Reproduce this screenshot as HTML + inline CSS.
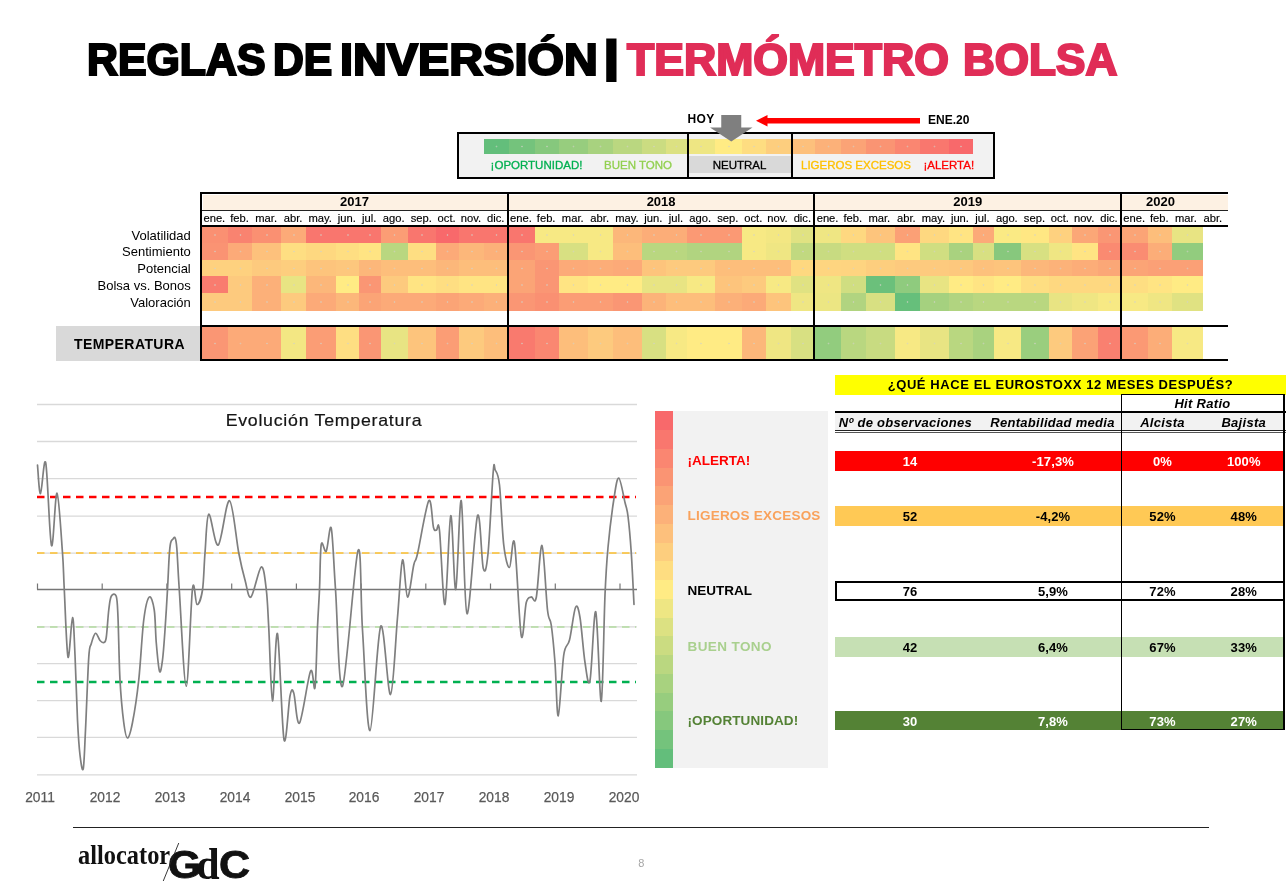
<!DOCTYPE html>
<html lang="es"><head><meta charset="utf-8"><title>Reglas de inversión | Termómetro bolsa</title>
<style>
html,body{margin:0;padding:0;background:#fff;}
body{width:1286px;height:892px;position:relative;overflow:hidden;font-family:"Liberation Sans",sans-serif;color:#000;}
body div{position:absolute;box-sizing:border-box;}
.t{white-space:nowrap;line-height:1;}
.c{background-image:radial-gradient(circle at 50% 50%,rgba(210,210,200,.6) 0.5px,rgba(210,210,200,0) 1.2px);}
svg{position:absolute;left:0;top:0;}
.ttl{font-weight:bold;font-size:44.5px;line-height:1;white-space:nowrap;transform-origin:0 0;-webkit-text-stroke:2.2px currentColor;}
</style></head><body>

<div class="ttl" id="w_REGLAS" style="left:86.82px;top:38.20px;color:#000;transform:scaleX(0.9631);">REGLAS</div>
<div class="ttl" id="w_DE" style="left:273.08px;top:38.20px;color:#000;transform:scaleX(0.9583);">DE</div>
<div class="ttl" id="w_INVERSIÓN" style="left:340.39px;top:38.20px;color:#000;transform:scaleX(1.0529);">INVERSIÓN</div>
<div class="ttl" id="w_TERMÓMETRO" style="left:627.25px;top:38.20px;color:#e02d57;transform:scaleX(1.0016);">TERMÓMETRO</div>
<div class="ttl" id="w_BOLSA" style="left:963.02px;top:38.20px;color:#e02d57;transform:scaleX(0.9903);">BOLSA</div>
<div class="t" style="left:603.86px;top:34.57px;transform-origin:0 0;transform:scale(1.1944,0.9783);font-family:'Liberation Sans',sans-serif;font-weight:bold;font-size:44px;-webkit-text-stroke:3px #000;color:#000;">|</div>
<div style="left:457.00px;top:132.00px;width:538.30px;height:47.00px;background:#f2f2f2;border:2px solid #000;"></div>
<div style="left:688.00px;top:155.50px;width:103.00px;height:17.50px;background:#d9d9d9;"></div>
<div class="c" style="left:484.30px;top:139.20px;width:24.60px;height:15.30px;background-color:#63be7b"></div>
<div class="c" style="left:508.60px;top:139.20px;width:26.40px;height:15.30px;background-color:#74c37c"></div>
<div class="c" style="left:534.70px;top:139.20px;width:24.60px;height:15.30px;background-color:#86c87d"></div>
<div class="c" style="left:559.00px;top:139.20px;width:29.20px;height:15.30px;background-color:#97cd7e"></div>
<div class="c" style="left:587.90px;top:139.20px;width:25.30px;height:15.30px;background-color:#a8d27f"></div>
<div class="c" style="left:612.90px;top:139.20px;width:29.60px;height:15.30px;background-color:#bad780"></div>
<div class="c" style="left:642.20px;top:139.20px;width:24.00px;height:15.30px;background-color:#cbdc81"></div>
<div class="c" style="left:665.90px;top:139.20px;width:21.60px;height:15.30px;background-color:#dce182"></div>
<div class="c" style="left:687.20px;top:139.20px;width:27.80px;height:15.30px;background-color:#eee683"></div>
<div class="c" style="left:714.70px;top:139.20px;width:28.00px;height:15.30px;background-color:#ffeb84"></div>
<div class="c" style="left:742.40px;top:139.20px;width:23.40px;height:15.30px;background-color:#fedd81"></div>
<div class="c" style="left:765.50px;top:139.20px;width:25.70px;height:15.30px;background-color:#fdce7e"></div>
<div class="c" style="left:790.90px;top:139.20px;width:24.60px;height:15.30px;background-color:#fdc07c"></div>
<div class="c" style="left:815.20px;top:139.20px;width:26.40px;height:15.30px;background-color:#fcb179"></div>
<div class="c" style="left:841.30px;top:139.20px;width:24.60px;height:15.30px;background-color:#fba376"></div>
<div class="c" style="left:865.60px;top:139.20px;width:29.20px;height:15.30px;background-color:#fa9473"></div>
<div class="c" style="left:894.50px;top:139.20px;width:25.30px;height:15.30px;background-color:#fa8671"></div>
<div class="c" style="left:919.50px;top:139.20px;width:29.60px;height:15.30px;background-color:#f9776e"></div>
<div class="c" style="left:948.80px;top:139.20px;width:24.00px;height:15.30px;background-color:#f8696b"></div>
<div style="left:686.50px;top:132.00px;width:2.00px;height:47.00px;background:#000;"></div>
<div style="left:790.50px;top:132.00px;width:2.00px;height:47.00px;background:#000;"></div>
<div class="t" style="left:536.50px;top:165.50px;transform:translate(-50%,-50%);font-size:11.5px;color:#00b050;-webkit-text-stroke:0.3px #00b050;">¡OPORTUNIDAD!</div>
<div class="t" style="left:638.00px;top:165.50px;transform:translate(-50%,-50%);font-size:11.5px;color:#92d050;-webkit-text-stroke:0.3px #92d050;">BUEN TONO</div>
<div class="t" style="left:739.50px;top:165.50px;transform:translate(-50%,-50%);font-size:11.5px;color:#000;-webkit-text-stroke:0.3px #000;">NEUTRAL</div>
<div class="t" style="left:856.00px;top:165.50px;transform:translate(-50%,-50%);font-size:11.5px;color:#ffc000;-webkit-text-stroke:0.3px #ffc000;">LIGEROS EXCESOS</div>
<div class="t" style="left:948.75px;top:165.50px;transform:translate(-50%,-50%);font-size:11.5px;color:#ff0000;-webkit-text-stroke:0.3px #ff0000;">¡ALERTA!</div>
<div class="t" style="left:701.00px;top:118.50px;transform:translate(-50%,-50%);font-size:12px;font-weight:bold;letter-spacing:0.3px;">HOY</div>
<div class="t" style="left:948.75px;top:119.50px;transform:translate(-50%,-50%);font-size:12px;font-weight:bold;">ENE.20</div>
<svg width="1286" height="892" viewBox="0 0 1286 892">
<polygon points="721.25,115 741.25,115 741.25,127.5 752.5,127.5 731.25,141.5 710,127.5 721.25,127.5" fill="#7f7f7f"/>
<polygon points="756,120.75 767.5,115 767.5,118 920,118 920,123.5 767.5,123.5 767.5,126.5" fill="#ff0000"/>
</svg>
<div style="left:203.20px;top:195.00px;width:1024.80px;height:15.00px;background:#fdf1e3;"></div>
<div class="c" style="left:202.00px;top:226.75px;width:26.40px;height:16.05px;background-color:#fa9072"></div>
<div class="c" style="left:228.10px;top:226.75px;width:24.60px;height:16.05px;background-color:#f98370"></div>
<div class="c" style="left:252.40px;top:226.75px;width:29.20px;height:16.05px;background-color:#fa9072"></div>
<div class="c" style="left:281.30px;top:226.75px;width:25.30px;height:16.05px;background-color:#fcaa78"></div>
<div class="c" style="left:306.30px;top:226.75px;width:29.60px;height:16.05px;background-color:#f9766e"></div>
<div class="c" style="left:335.60px;top:226.75px;width:24.00px;height:16.05px;background-color:#f9766e"></div>
<div class="c" style="left:359.30px;top:226.75px;width:21.60px;height:16.05px;background-color:#f9766e"></div>
<div class="c" style="left:380.60px;top:226.75px;width:27.80px;height:16.05px;background-color:#fb9d75"></div>
<div class="c" style="left:408.10px;top:226.75px;width:28.00px;height:16.05px;background-color:#f9766e"></div>
<div class="c" style="left:435.80px;top:226.75px;width:23.40px;height:16.05px;background-color:#f8696b"></div>
<div class="c" style="left:458.90px;top:226.75px;width:25.70px;height:16.05px;background-color:#f9766e"></div>
<div class="c" style="left:484.30px;top:226.75px;width:24.60px;height:16.05px;background-color:#f9766e"></div>
<div class="c" style="left:508.60px;top:226.75px;width:26.40px;height:16.05px;background-color:#f9766e"></div>
<div class="c" style="left:534.70px;top:226.75px;width:24.60px;height:16.05px;background-color:#f7e984"></div>
<div class="c" style="left:559.00px;top:226.75px;width:29.20px;height:16.05px;background-color:#f7e984"></div>
<div class="c" style="left:587.90px;top:226.75px;width:25.30px;height:16.05px;background-color:#f7e984"></div>
<div class="c" style="left:612.90px;top:226.75px;width:29.60px;height:16.05px;background-color:#fcb77a"></div>
<div class="c" style="left:642.20px;top:226.75px;width:24.00px;height:16.05px;background-color:#fcad78"></div>
<div class="c" style="left:665.90px;top:226.75px;width:21.60px;height:16.05px;background-color:#fcad78"></div>
<div class="c" style="left:687.20px;top:226.75px;width:27.80px;height:16.05px;background-color:#fb9974"></div>
<div class="c" style="left:714.70px;top:226.75px;width:28.00px;height:16.05px;background-color:#fb9974"></div>
<div class="c" style="left:742.40px;top:226.75px;width:23.40px;height:16.05px;background-color:#f7e984"></div>
<div class="c" style="left:765.50px;top:226.75px;width:25.70px;height:16.05px;background-color:#f3e783"></div>
<div class="c" style="left:790.90px;top:226.75px;width:24.60px;height:16.05px;background-color:#e0e282"></div>
<div class="c" style="left:815.20px;top:226.75px;width:26.40px;height:16.05px;background-color:#efe683"></div>
<div class="c" style="left:841.30px;top:226.75px;width:24.60px;height:16.05px;background-color:#fed880"></div>
<div class="c" style="left:865.60px;top:226.75px;width:29.20px;height:16.05px;background-color:#fdc47c"></div>
<div class="c" style="left:894.50px;top:226.75px;width:25.30px;height:16.05px;background-color:#fba076"></div>
<div class="c" style="left:919.50px;top:226.75px;width:29.60px;height:16.05px;background-color:#fed880"></div>
<div class="c" style="left:948.80px;top:226.75px;width:24.00px;height:16.05px;background-color:#ffe483"></div>
<div class="c" style="left:972.50px;top:226.75px;width:21.60px;height:16.05px;background-color:#fcaa78"></div>
<div class="c" style="left:993.80px;top:226.75px;width:27.80px;height:16.05px;background-color:#faea84"></div>
<div class="c" style="left:1021.30px;top:226.75px;width:28.00px;height:16.05px;background-color:#ffe783"></div>
<div class="c" style="left:1049.00px;top:226.75px;width:23.40px;height:16.05px;background-color:#fed17f"></div>
<div class="c" style="left:1072.10px;top:226.75px;width:25.70px;height:16.05px;background-color:#fba777"></div>
<div class="c" style="left:1097.50px;top:226.75px;width:24.60px;height:16.05px;background-color:#fa9674"></div>
<div class="c" style="left:1121.80px;top:226.75px;width:26.40px;height:16.05px;background-color:#fba476"></div>
<div class="c" style="left:1147.90px;top:226.75px;width:24.60px;height:16.05px;background-color:#fdbe7b"></div>
<div class="c" style="left:1172.20px;top:226.75px;width:30.60px;height:16.05px;background-color:#e8e483"></div>
<div class="t" style="left:190.75px;top:234.93px;transform:translate(-100%,-50%);font-size:13px;">Volatilidad</div>
<div class="c" style="left:202.00px;top:242.50px;width:26.40px;height:17.30px;background-color:#fa9373"></div>
<div class="c" style="left:228.10px;top:242.50px;width:24.60px;height:17.30px;background-color:#fcaa78"></div>
<div class="c" style="left:252.40px;top:242.50px;width:29.20px;height:17.30px;background-color:#fdc17c"></div>
<div class="c" style="left:281.30px;top:242.50px;width:25.30px;height:17.30px;background-color:#fede82"></div>
<div class="c" style="left:306.30px;top:242.50px;width:29.60px;height:17.30px;background-color:#fed880"></div>
<div class="c" style="left:335.60px;top:242.50px;width:24.00px;height:17.30px;background-color:#fede82"></div>
<div class="c" style="left:359.30px;top:242.50px;width:21.60px;height:17.30px;background-color:#ffe483"></div>
<div class="c" style="left:380.60px;top:242.50px;width:27.80px;height:17.30px;background-color:#b9d780"></div>
<div class="c" style="left:408.10px;top:242.50px;width:28.00px;height:17.30px;background-color:#fede82"></div>
<div class="c" style="left:435.80px;top:242.50px;width:23.40px;height:17.30px;background-color:#fcaa78"></div>
<div class="c" style="left:458.90px;top:242.50px;width:25.70px;height:17.30px;background-color:#fcb77a"></div>
<div class="c" style="left:484.30px;top:242.50px;width:24.60px;height:17.30px;background-color:#fcb079"></div>
<div class="c" style="left:508.60px;top:242.50px;width:26.40px;height:17.30px;background-color:#fa9674"></div>
<div class="c" style="left:534.70px;top:242.50px;width:24.60px;height:17.30px;background-color:#fb9d75"></div>
<div class="c" style="left:559.00px;top:242.50px;width:29.20px;height:17.30px;background-color:#d8e082"></div>
<div class="c" style="left:587.90px;top:242.50px;width:25.30px;height:17.30px;background-color:#f7e984"></div>
<div class="c" style="left:612.90px;top:242.50px;width:29.60px;height:17.30px;background-color:#fdbe7b"></div>
<div class="c" style="left:642.20px;top:242.50px;width:24.00px;height:17.30px;background-color:#b9d780"></div>
<div class="c" style="left:665.90px;top:242.50px;width:21.60px;height:17.30px;background-color:#b9d780"></div>
<div class="c" style="left:687.20px;top:242.50px;width:27.80px;height:17.30px;background-color:#b1d480"></div>
<div class="c" style="left:714.70px;top:242.50px;width:28.00px;height:17.30px;background-color:#b1d480"></div>
<div class="c" style="left:742.40px;top:242.50px;width:23.40px;height:17.30px;background-color:#f7e984"></div>
<div class="c" style="left:765.50px;top:242.50px;width:25.70px;height:17.30px;background-color:#efe683"></div>
<div class="c" style="left:790.90px;top:242.50px;width:24.60px;height:17.30px;background-color:#c1d980"></div>
<div class="c" style="left:815.20px;top:242.50px;width:26.40px;height:17.30px;background-color:#c8db81"></div>
<div class="c" style="left:841.30px;top:242.50px;width:24.60px;height:17.30px;background-color:#d0de81"></div>
<div class="c" style="left:865.60px;top:242.50px;width:29.20px;height:17.30px;background-color:#d0de81"></div>
<div class="c" style="left:894.50px;top:242.50px;width:25.30px;height:17.30px;background-color:#ffe483"></div>
<div class="c" style="left:919.50px;top:242.50px;width:29.60px;height:17.30px;background-color:#d0de81"></div>
<div class="c" style="left:948.80px;top:242.50px;width:24.00px;height:17.30px;background-color:#a9d27f"></div>
<div class="c" style="left:972.50px;top:242.50px;width:21.60px;height:17.30px;background-color:#d8e082"></div>
<div class="c" style="left:993.80px;top:242.50px;width:27.80px;height:17.30px;background-color:#87c87d"></div>
<div class="c" style="left:1021.30px;top:242.50px;width:28.00px;height:17.30px;background-color:#d8e082"></div>
<div class="c" style="left:1049.00px;top:242.50px;width:23.40px;height:17.30px;background-color:#efe683"></div>
<div class="c" style="left:1072.10px;top:242.50px;width:25.70px;height:17.30px;background-color:#ffe483"></div>
<div class="c" style="left:1097.50px;top:242.50px;width:24.60px;height:17.30px;background-color:#fa8a71"></div>
<div class="c" style="left:1121.80px;top:242.50px;width:26.40px;height:17.30px;background-color:#fa8c72"></div>
<div class="c" style="left:1147.90px;top:242.50px;width:24.60px;height:17.30px;background-color:#fcad78"></div>
<div class="c" style="left:1172.20px;top:242.50px;width:30.60px;height:17.30px;background-color:#92cc7e"></div>
<div class="t" style="left:190.75px;top:251.30px;transform:translate(-100%,-50%);font-size:13px;">Sentimiento</div>
<div class="c" style="left:202.00px;top:259.50px;width:26.40px;height:17.05px;background-color:#fed17f"></div>
<div class="c" style="left:228.10px;top:259.50px;width:24.60px;height:17.05px;background-color:#fed17f"></div>
<div class="c" style="left:252.40px;top:259.50px;width:29.20px;height:17.05px;background-color:#fdca7e"></div>
<div class="c" style="left:281.30px;top:259.50px;width:25.30px;height:17.05px;background-color:#fdce7e"></div>
<div class="c" style="left:306.30px;top:259.50px;width:29.60px;height:17.05px;background-color:#fdc47c"></div>
<div class="c" style="left:335.60px;top:259.50px;width:24.00px;height:17.05px;background-color:#fdc77d"></div>
<div class="c" style="left:359.30px;top:259.50px;width:21.60px;height:17.05px;background-color:#fcb77a"></div>
<div class="c" style="left:380.60px;top:259.50px;width:27.80px;height:17.05px;background-color:#fdbe7b"></div>
<div class="c" style="left:408.10px;top:259.50px;width:28.00px;height:17.05px;background-color:#fdbe7b"></div>
<div class="c" style="left:435.80px;top:259.50px;width:23.40px;height:17.05px;background-color:#fcb77a"></div>
<div class="c" style="left:458.90px;top:259.50px;width:25.70px;height:17.05px;background-color:#fdbe7b"></div>
<div class="c" style="left:484.30px;top:259.50px;width:24.60px;height:17.05px;background-color:#fdbe7b"></div>
<div class="c" style="left:508.60px;top:259.50px;width:26.40px;height:17.05px;background-color:#fba476"></div>
<div class="c" style="left:534.70px;top:259.50px;width:24.60px;height:17.05px;background-color:#fa9674"></div>
<div class="c" style="left:559.00px;top:259.50px;width:29.20px;height:17.05px;background-color:#fcaa78"></div>
<div class="c" style="left:587.90px;top:259.50px;width:25.30px;height:17.05px;background-color:#fcad78"></div>
<div class="c" style="left:612.90px;top:259.50px;width:29.60px;height:17.05px;background-color:#fcaa78"></div>
<div class="c" style="left:642.20px;top:259.50px;width:24.00px;height:17.05px;background-color:#fdc47c"></div>
<div class="c" style="left:665.90px;top:259.50px;width:21.60px;height:17.05px;background-color:#fdca7e"></div>
<div class="c" style="left:687.20px;top:259.50px;width:27.80px;height:17.05px;background-color:#fdca7e"></div>
<div class="c" style="left:714.70px;top:259.50px;width:28.00px;height:17.05px;background-color:#fdbe7b"></div>
<div class="c" style="left:742.40px;top:259.50px;width:23.40px;height:17.05px;background-color:#fdbe7b"></div>
<div class="c" style="left:765.50px;top:259.50px;width:25.70px;height:17.05px;background-color:#fdbe7b"></div>
<div class="c" style="left:790.90px;top:259.50px;width:24.60px;height:17.05px;background-color:#fed880"></div>
<div class="c" style="left:815.20px;top:259.50px;width:26.40px;height:17.05px;background-color:#fed580"></div>
<div class="c" style="left:841.30px;top:259.50px;width:24.60px;height:17.05px;background-color:#fed480"></div>
<div class="c" style="left:865.60px;top:259.50px;width:29.20px;height:17.05px;background-color:#fdce7e"></div>
<div class="c" style="left:894.50px;top:259.50px;width:25.30px;height:17.05px;background-color:#fdca7e"></div>
<div class="c" style="left:919.50px;top:259.50px;width:29.60px;height:17.05px;background-color:#fdca7e"></div>
<div class="c" style="left:948.80px;top:259.50px;width:24.00px;height:17.05px;background-color:#fdc87d"></div>
<div class="c" style="left:972.50px;top:259.50px;width:21.60px;height:17.05px;background-color:#fdc17c"></div>
<div class="c" style="left:993.80px;top:259.50px;width:27.80px;height:17.05px;background-color:#fdc47c"></div>
<div class="c" style="left:1021.30px;top:259.50px;width:28.00px;height:17.05px;background-color:#fcb77a"></div>
<div class="c" style="left:1049.00px;top:259.50px;width:23.40px;height:17.05px;background-color:#fcb279"></div>
<div class="c" style="left:1072.10px;top:259.50px;width:25.70px;height:17.05px;background-color:#fcad78"></div>
<div class="c" style="left:1097.50px;top:259.50px;width:24.60px;height:17.05px;background-color:#fba777"></div>
<div class="c" style="left:1121.80px;top:259.50px;width:26.40px;height:17.05px;background-color:#fba476"></div>
<div class="c" style="left:1147.90px;top:259.50px;width:24.60px;height:17.05px;background-color:#fba076"></div>
<div class="c" style="left:1172.20px;top:259.50px;width:30.60px;height:17.05px;background-color:#fba076"></div>
<div class="t" style="left:190.75px;top:268.18px;transform:translate(-100%,-50%);font-size:13px;">Potencial</div>
<div class="c" style="left:202.00px;top:276.25px;width:26.40px;height:17.30px;background-color:#f97c6f"></div>
<div class="c" style="left:228.10px;top:276.25px;width:24.60px;height:17.30px;background-color:#fdca7e"></div>
<div class="c" style="left:252.40px;top:276.25px;width:29.20px;height:17.30px;background-color:#fcb079"></div>
<div class="c" style="left:281.30px;top:276.25px;width:25.30px;height:17.30px;background-color:#e8e483"></div>
<div class="c" style="left:306.30px;top:276.25px;width:29.60px;height:17.30px;background-color:#fcb77a"></div>
<div class="c" style="left:335.60px;top:276.25px;width:24.00px;height:17.30px;background-color:#ffeb84"></div>
<div class="c" style="left:359.30px;top:276.25px;width:21.60px;height:17.30px;background-color:#fa9674"></div>
<div class="c" style="left:380.60px;top:276.25px;width:27.80px;height:17.30px;background-color:#fdca7e"></div>
<div class="c" style="left:408.10px;top:276.25px;width:28.00px;height:17.30px;background-color:#ffe483"></div>
<div class="c" style="left:435.80px;top:276.25px;width:23.40px;height:17.30px;background-color:#fede82"></div>
<div class="c" style="left:458.90px;top:276.25px;width:25.70px;height:17.30px;background-color:#ffe483"></div>
<div class="c" style="left:484.30px;top:276.25px;width:24.60px;height:17.30px;background-color:#ffe483"></div>
<div class="c" style="left:508.60px;top:276.25px;width:26.40px;height:17.30px;background-color:#fba476"></div>
<div class="c" style="left:534.70px;top:276.25px;width:24.60px;height:17.30px;background-color:#fa9674"></div>
<div class="c" style="left:559.00px;top:276.25px;width:29.20px;height:17.30px;background-color:#ffe483"></div>
<div class="c" style="left:587.90px;top:276.25px;width:25.30px;height:17.30px;background-color:#ffeb84"></div>
<div class="c" style="left:612.90px;top:276.25px;width:29.60px;height:17.30px;background-color:#ffeb84"></div>
<div class="c" style="left:642.20px;top:276.25px;width:24.00px;height:17.30px;background-color:#e8e483"></div>
<div class="c" style="left:665.90px;top:276.25px;width:21.60px;height:17.30px;background-color:#e8e483"></div>
<div class="c" style="left:687.20px;top:276.25px;width:27.80px;height:17.30px;background-color:#f7e984"></div>
<div class="c" style="left:714.70px;top:276.25px;width:28.00px;height:17.30px;background-color:#fdc47c"></div>
<div class="c" style="left:742.40px;top:276.25px;width:23.40px;height:17.30px;background-color:#fdca7e"></div>
<div class="c" style="left:765.50px;top:276.25px;width:25.70px;height:17.30px;background-color:#f7e984"></div>
<div class="c" style="left:790.90px;top:276.25px;width:24.60px;height:17.30px;background-color:#e0e282"></div>
<div class="c" style="left:815.20px;top:276.25px;width:26.40px;height:17.30px;background-color:#efe683"></div>
<div class="c" style="left:841.30px;top:276.25px;width:24.60px;height:17.30px;background-color:#d0de81"></div>
<div class="c" style="left:865.60px;top:276.25px;width:29.20px;height:17.30px;background-color:#6bc07b"></div>
<div class="c" style="left:894.50px;top:276.25px;width:25.30px;height:17.30px;background-color:#8fcb7e"></div>
<div class="c" style="left:919.50px;top:276.25px;width:29.60px;height:17.30px;background-color:#e8e483"></div>
<div class="c" style="left:948.80px;top:276.25px;width:24.00px;height:17.30px;background-color:#ffeb84"></div>
<div class="c" style="left:972.50px;top:276.25px;width:21.60px;height:17.30px;background-color:#ffe483"></div>
<div class="c" style="left:993.80px;top:276.25px;width:27.80px;height:17.30px;background-color:#ffeb84"></div>
<div class="c" style="left:1021.30px;top:276.25px;width:28.00px;height:17.30px;background-color:#fede82"></div>
<div class="c" style="left:1049.00px;top:276.25px;width:23.40px;height:17.30px;background-color:#fed880"></div>
<div class="c" style="left:1072.10px;top:276.25px;width:25.70px;height:17.30px;background-color:#fed880"></div>
<div class="c" style="left:1097.50px;top:276.25px;width:24.60px;height:17.30px;background-color:#fed880"></div>
<div class="c" style="left:1121.80px;top:276.25px;width:26.40px;height:17.30px;background-color:#fede82"></div>
<div class="c" style="left:1147.90px;top:276.25px;width:24.60px;height:17.30px;background-color:#ffe483"></div>
<div class="c" style="left:1172.20px;top:276.25px;width:30.60px;height:17.30px;background-color:#ffeb84"></div>
<div class="t" style="left:190.75px;top:285.05px;transform:translate(-100%,-50%);font-size:13px;">Bolsa vs. Bonos</div>
<div class="c" style="left:202.00px;top:293.25px;width:26.40px;height:17.80px;background-color:#fdca7e"></div>
<div class="c" style="left:228.10px;top:293.25px;width:24.60px;height:17.80px;background-color:#fdca7e"></div>
<div class="c" style="left:252.40px;top:293.25px;width:29.20px;height:17.80px;background-color:#fcb079"></div>
<div class="c" style="left:281.30px;top:293.25px;width:25.30px;height:17.80px;background-color:#fdca7e"></div>
<div class="c" style="left:306.30px;top:293.25px;width:29.60px;height:17.80px;background-color:#fcaa78"></div>
<div class="c" style="left:335.60px;top:293.25px;width:24.00px;height:17.80px;background-color:#fcb77a"></div>
<div class="c" style="left:359.30px;top:293.25px;width:21.60px;height:17.80px;background-color:#fba476"></div>
<div class="c" style="left:380.60px;top:293.25px;width:27.80px;height:17.80px;background-color:#fcaa78"></div>
<div class="c" style="left:408.10px;top:293.25px;width:28.00px;height:17.80px;background-color:#fcaa78"></div>
<div class="c" style="left:435.80px;top:293.25px;width:23.40px;height:17.80px;background-color:#fba476"></div>
<div class="c" style="left:458.90px;top:293.25px;width:25.70px;height:17.80px;background-color:#fcaa78"></div>
<div class="c" style="left:484.30px;top:293.25px;width:24.60px;height:17.80px;background-color:#fcb079"></div>
<div class="c" style="left:508.60px;top:293.25px;width:26.40px;height:17.80px;background-color:#fa9674"></div>
<div class="c" style="left:534.70px;top:293.25px;width:24.60px;height:17.80px;background-color:#fa9072"></div>
<div class="c" style="left:559.00px;top:293.25px;width:29.20px;height:17.80px;background-color:#fb9d75"></div>
<div class="c" style="left:587.90px;top:293.25px;width:25.30px;height:17.80px;background-color:#fb9d75"></div>
<div class="c" style="left:612.90px;top:293.25px;width:29.60px;height:17.80px;background-color:#fa9674"></div>
<div class="c" style="left:642.20px;top:293.25px;width:24.00px;height:17.80px;background-color:#fcb379"></div>
<div class="c" style="left:665.90px;top:293.25px;width:21.60px;height:17.80px;background-color:#fdbe7b"></div>
<div class="c" style="left:687.20px;top:293.25px;width:27.80px;height:17.80px;background-color:#fdbe7b"></div>
<div class="c" style="left:714.70px;top:293.25px;width:28.00px;height:17.80px;background-color:#fcb079"></div>
<div class="c" style="left:742.40px;top:293.25px;width:23.40px;height:17.80px;background-color:#fcaa78"></div>
<div class="c" style="left:765.50px;top:293.25px;width:25.70px;height:17.80px;background-color:#fdc47c"></div>
<div class="c" style="left:790.90px;top:293.25px;width:24.60px;height:17.80px;background-color:#efe683"></div>
<div class="c" style="left:815.20px;top:293.25px;width:26.40px;height:17.80px;background-color:#ece683"></div>
<div class="c" style="left:841.30px;top:293.25px;width:24.60px;height:17.80px;background-color:#b1d480"></div>
<div class="c" style="left:865.60px;top:293.25px;width:29.20px;height:17.80px;background-color:#d8e082"></div>
<div class="c" style="left:894.50px;top:293.25px;width:25.30px;height:17.80px;background-color:#66bf7b"></div>
<div class="c" style="left:919.50px;top:293.25px;width:29.60px;height:17.80px;background-color:#a5d17f"></div>
<div class="c" style="left:948.80px;top:293.25px;width:24.00px;height:17.80px;background-color:#b1d480"></div>
<div class="c" style="left:972.50px;top:293.25px;width:21.60px;height:17.80px;background-color:#b9d780"></div>
<div class="c" style="left:993.80px;top:293.25px;width:27.80px;height:17.80px;background-color:#b9d780"></div>
<div class="c" style="left:1021.30px;top:293.25px;width:28.00px;height:17.80px;background-color:#b9d780"></div>
<div class="c" style="left:1049.00px;top:293.25px;width:23.40px;height:17.80px;background-color:#e8e483"></div>
<div class="c" style="left:1072.10px;top:293.25px;width:25.70px;height:17.80px;background-color:#efe683"></div>
<div class="c" style="left:1097.50px;top:293.25px;width:24.60px;height:17.80px;background-color:#f7e984"></div>
<div class="c" style="left:1121.80px;top:293.25px;width:26.40px;height:17.80px;background-color:#f7e984"></div>
<div class="c" style="left:1147.90px;top:293.25px;width:24.60px;height:17.80px;background-color:#efe683"></div>
<div class="c" style="left:1172.20px;top:293.25px;width:30.60px;height:17.80px;background-color:#e0e282"></div>
<div class="t" style="left:190.75px;top:302.30px;transform:translate(-100%,-50%);font-size:13px;">Valoración</div>
<div class="c" style="left:202.00px;top:327.00px;width:26.40px;height:32.50px;background-color:#fa9674"></div>
<div class="c" style="left:228.10px;top:327.00px;width:24.60px;height:32.50px;background-color:#fcaa78"></div>
<div class="c" style="left:252.40px;top:327.00px;width:29.20px;height:32.50px;background-color:#fcaa78"></div>
<div class="c" style="left:281.30px;top:327.00px;width:25.30px;height:32.50px;background-color:#f3e783"></div>
<div class="c" style="left:306.30px;top:327.00px;width:29.60px;height:32.50px;background-color:#fb9d75"></div>
<div class="c" style="left:335.60px;top:327.00px;width:24.00px;height:32.50px;background-color:#fede82"></div>
<div class="c" style="left:359.30px;top:327.00px;width:21.60px;height:32.50px;background-color:#fa9674"></div>
<div class="c" style="left:380.60px;top:327.00px;width:27.80px;height:32.50px;background-color:#e8e483"></div>
<div class="c" style="left:408.10px;top:327.00px;width:28.00px;height:32.50px;background-color:#fdc47c"></div>
<div class="c" style="left:435.80px;top:327.00px;width:23.40px;height:32.50px;background-color:#fb9d75"></div>
<div class="c" style="left:458.90px;top:327.00px;width:25.70px;height:32.50px;background-color:#fdca7e"></div>
<div class="c" style="left:484.30px;top:327.00px;width:24.60px;height:32.50px;background-color:#fdbe7b"></div>
<div class="c" style="left:508.60px;top:327.00px;width:26.40px;height:32.50px;background-color:#f97a6e"></div>
<div class="c" style="left:534.70px;top:327.00px;width:24.60px;height:32.50px;background-color:#fa8771"></div>
<div class="c" style="left:559.00px;top:327.00px;width:29.20px;height:32.50px;background-color:#fdbe7b"></div>
<div class="c" style="left:587.90px;top:327.00px;width:25.30px;height:32.50px;background-color:#fdca7e"></div>
<div class="c" style="left:612.90px;top:327.00px;width:29.60px;height:32.50px;background-color:#fdbe7b"></div>
<div class="c" style="left:642.20px;top:327.00px;width:24.00px;height:32.50px;background-color:#d8e082"></div>
<div class="c" style="left:665.90px;top:327.00px;width:21.60px;height:32.50px;background-color:#f7e984"></div>
<div class="c" style="left:687.20px;top:327.00px;width:27.80px;height:32.50px;background-color:#ffeb84"></div>
<div class="c" style="left:714.70px;top:327.00px;width:28.00px;height:32.50px;background-color:#ffeb84"></div>
<div class="c" style="left:742.40px;top:327.00px;width:23.40px;height:32.50px;background-color:#fcb77a"></div>
<div class="c" style="left:765.50px;top:327.00px;width:25.70px;height:32.50px;background-color:#efe683"></div>
<div class="c" style="left:790.90px;top:327.00px;width:24.60px;height:32.50px;background-color:#d8e082"></div>
<div class="c" style="left:815.20px;top:327.00px;width:26.40px;height:32.50px;background-color:#92cc7e"></div>
<div class="c" style="left:841.30px;top:327.00px;width:24.60px;height:32.50px;background-color:#b9d780"></div>
<div class="c" style="left:865.60px;top:327.00px;width:29.20px;height:32.50px;background-color:#c8db81"></div>
<div class="c" style="left:894.50px;top:327.00px;width:25.30px;height:32.50px;background-color:#f7e984"></div>
<div class="c" style="left:919.50px;top:327.00px;width:29.60px;height:32.50px;background-color:#e8e483"></div>
<div class="c" style="left:948.80px;top:327.00px;width:24.00px;height:32.50px;background-color:#b9d780"></div>
<div class="c" style="left:972.50px;top:327.00px;width:21.60px;height:32.50px;background-color:#a9d27f"></div>
<div class="c" style="left:993.80px;top:327.00px;width:27.80px;height:32.50px;background-color:#f7e984"></div>
<div class="c" style="left:1021.30px;top:327.00px;width:28.00px;height:32.50px;background-color:#9ace7e"></div>
<div class="c" style="left:1049.00px;top:327.00px;width:23.40px;height:32.50px;background-color:#fdca7e"></div>
<div class="c" style="left:1072.10px;top:327.00px;width:25.70px;height:32.50px;background-color:#fba276"></div>
<div class="c" style="left:1097.50px;top:327.00px;width:24.60px;height:32.50px;background-color:#f98070"></div>
<div class="c" style="left:1121.80px;top:327.00px;width:26.40px;height:32.50px;background-color:#fb9974"></div>
<div class="c" style="left:1147.90px;top:327.00px;width:24.60px;height:32.50px;background-color:#fcad78"></div>
<div class="c" style="left:1172.20px;top:327.00px;width:30.60px;height:32.50px;background-color:#f7e984"></div>
<div style="left:56.25px;top:326.25px;width:145.00px;height:34.50px;background:#d9d9d9;"></div>
<div class="t" style="left:129.50px;top:343.50px;transform:translate(-50%,-50%);font-size:14px;font-weight:bold;letter-spacing:0.42px;">TEMPERATURA</div>
<div style="left:200.50px;top:192.00px;width:1027.50px;height:2.00px;background:#000;"></div>
<div style="left:200.50px;top:209.60px;width:1027.50px;height:1.20px;background:#222;"></div>
<div style="left:200.50px;top:225.00px;width:1027.50px;height:2.00px;background:#000;"></div>
<div style="left:200.50px;top:325.00px;width:1027.50px;height:2.00px;background:#000;"></div>
<div style="left:200.50px;top:359.00px;width:1027.50px;height:2.00px;background:#000;"></div>
<div style="left:200.20px;top:192.00px;width:2.00px;height:169.00px;background:#000;"></div>
<div style="left:506.80px;top:192.00px;width:2.00px;height:169.00px;background:#000;"></div>
<div style="left:813.40px;top:192.00px;width:2.00px;height:169.00px;background:#000;"></div>
<div style="left:1120.00px;top:192.00px;width:2.00px;height:169.00px;background:#000;"></div>
<div class="t" style="left:354.50px;top:201.30px;transform:translate(-50%,-50%);font-size:13px;font-weight:bold;">2017</div>
<div class="t" style="left:661.10px;top:201.30px;transform:translate(-50%,-50%);font-size:13px;font-weight:bold;">2018</div>
<div class="t" style="left:967.70px;top:201.30px;transform:translate(-50%,-50%);font-size:13px;font-weight:bold;">2019</div>
<div class="t" style="left:1160.50px;top:201.30px;transform:translate(-50%,-50%);font-size:13px;font-weight:bold;">2020</div>
<div class="t" style="left:214.35px;top:219.40px;transform:translate(-50%,-50%);font-size:11.2px;-webkit-text-stroke:0.15px #000;">ene.</div>
<div class="t" style="left:239.55px;top:219.40px;transform:translate(-50%,-50%);font-size:11.2px;-webkit-text-stroke:0.15px #000;">feb.</div>
<div class="t" style="left:266.15px;top:219.40px;transform:translate(-50%,-50%);font-size:11.2px;-webkit-text-stroke:0.15px #000;">mar.</div>
<div class="t" style="left:293.10px;top:219.40px;transform:translate(-50%,-50%);font-size:11.2px;-webkit-text-stroke:0.15px #000;">abr.</div>
<div class="t" style="left:320.25px;top:219.40px;transform:translate(-50%,-50%);font-size:11.2px;-webkit-text-stroke:0.15px #000;">may.</div>
<div class="t" style="left:346.75px;top:219.40px;transform:translate(-50%,-50%);font-size:11.2px;-webkit-text-stroke:0.15px #000;">jun.</div>
<div class="t" style="left:369.25px;top:219.40px;transform:translate(-50%,-50%);font-size:11.2px;-webkit-text-stroke:0.15px #000;">jul.</div>
<div class="t" style="left:393.65px;top:219.40px;transform:translate(-50%,-50%);font-size:11.2px;-webkit-text-stroke:0.15px #000;">ago.</div>
<div class="t" style="left:421.25px;top:219.40px;transform:translate(-50%,-50%);font-size:11.2px;-webkit-text-stroke:0.15px #000;">sep.</div>
<div class="t" style="left:446.65px;top:219.40px;transform:translate(-50%,-50%);font-size:11.2px;-webkit-text-stroke:0.15px #000;">oct.</div>
<div class="t" style="left:470.90px;top:219.40px;transform:translate(-50%,-50%);font-size:11.2px;-webkit-text-stroke:0.15px #000;">nov.</div>
<div class="t" style="left:495.75px;top:219.40px;transform:translate(-50%,-50%);font-size:11.2px;-webkit-text-stroke:0.15px #000;">dic.</div>
<div class="t" style="left:520.95px;top:219.40px;transform:translate(-50%,-50%);font-size:11.2px;-webkit-text-stroke:0.15px #000;">ene.</div>
<div class="t" style="left:546.15px;top:219.40px;transform:translate(-50%,-50%);font-size:11.2px;-webkit-text-stroke:0.15px #000;">feb.</div>
<div class="t" style="left:572.75px;top:219.40px;transform:translate(-50%,-50%);font-size:11.2px;-webkit-text-stroke:0.15px #000;">mar.</div>
<div class="t" style="left:599.70px;top:219.40px;transform:translate(-50%,-50%);font-size:11.2px;-webkit-text-stroke:0.15px #000;">abr.</div>
<div class="t" style="left:626.85px;top:219.40px;transform:translate(-50%,-50%);font-size:11.2px;-webkit-text-stroke:0.15px #000;">may.</div>
<div class="t" style="left:653.35px;top:219.40px;transform:translate(-50%,-50%);font-size:11.2px;-webkit-text-stroke:0.15px #000;">jun.</div>
<div class="t" style="left:675.85px;top:219.40px;transform:translate(-50%,-50%);font-size:11.2px;-webkit-text-stroke:0.15px #000;">jul.</div>
<div class="t" style="left:700.25px;top:219.40px;transform:translate(-50%,-50%);font-size:11.2px;-webkit-text-stroke:0.15px #000;">ago.</div>
<div class="t" style="left:727.85px;top:219.40px;transform:translate(-50%,-50%);font-size:11.2px;-webkit-text-stroke:0.15px #000;">sep.</div>
<div class="t" style="left:753.25px;top:219.40px;transform:translate(-50%,-50%);font-size:11.2px;-webkit-text-stroke:0.15px #000;">oct.</div>
<div class="t" style="left:777.50px;top:219.40px;transform:translate(-50%,-50%);font-size:11.2px;-webkit-text-stroke:0.15px #000;">nov.</div>
<div class="t" style="left:802.35px;top:219.40px;transform:translate(-50%,-50%);font-size:11.2px;-webkit-text-stroke:0.15px #000;">dic.</div>
<div class="t" style="left:827.55px;top:219.40px;transform:translate(-50%,-50%);font-size:11.2px;-webkit-text-stroke:0.15px #000;">ene.</div>
<div class="t" style="left:852.75px;top:219.40px;transform:translate(-50%,-50%);font-size:11.2px;-webkit-text-stroke:0.15px #000;">feb.</div>
<div class="t" style="left:879.35px;top:219.40px;transform:translate(-50%,-50%);font-size:11.2px;-webkit-text-stroke:0.15px #000;">mar.</div>
<div class="t" style="left:906.30px;top:219.40px;transform:translate(-50%,-50%);font-size:11.2px;-webkit-text-stroke:0.15px #000;">abr.</div>
<div class="t" style="left:933.45px;top:219.40px;transform:translate(-50%,-50%);font-size:11.2px;-webkit-text-stroke:0.15px #000;">may.</div>
<div class="t" style="left:959.95px;top:219.40px;transform:translate(-50%,-50%);font-size:11.2px;-webkit-text-stroke:0.15px #000;">jun.</div>
<div class="t" style="left:982.45px;top:219.40px;transform:translate(-50%,-50%);font-size:11.2px;-webkit-text-stroke:0.15px #000;">jul.</div>
<div class="t" style="left:1006.85px;top:219.40px;transform:translate(-50%,-50%);font-size:11.2px;-webkit-text-stroke:0.15px #000;">ago.</div>
<div class="t" style="left:1034.45px;top:219.40px;transform:translate(-50%,-50%);font-size:11.2px;-webkit-text-stroke:0.15px #000;">sep.</div>
<div class="t" style="left:1059.85px;top:219.40px;transform:translate(-50%,-50%);font-size:11.2px;-webkit-text-stroke:0.15px #000;">oct.</div>
<div class="t" style="left:1084.10px;top:219.40px;transform:translate(-50%,-50%);font-size:11.2px;-webkit-text-stroke:0.15px #000;">nov.</div>
<div class="t" style="left:1108.95px;top:219.40px;transform:translate(-50%,-50%);font-size:11.2px;-webkit-text-stroke:0.15px #000;">dic.</div>
<div class="t" style="left:1134.15px;top:219.40px;transform:translate(-50%,-50%);font-size:11.2px;-webkit-text-stroke:0.15px #000;">ene.</div>
<div class="t" style="left:1159.35px;top:219.40px;transform:translate(-50%,-50%);font-size:11.2px;-webkit-text-stroke:0.15px #000;">feb.</div>
<div class="t" style="left:1185.95px;top:219.40px;transform:translate(-50%,-50%);font-size:11.2px;-webkit-text-stroke:0.15px #000;">mar.</div>
<div class="t" style="left:1212.90px;top:219.40px;transform:translate(-50%,-50%);font-size:11.2px;-webkit-text-stroke:0.15px #000;">abr.</div>
<svg width="1286" height="892" viewBox="0 0 1286 892">
<line x1="37" x2="637" y1="404.5" y2="404.5" stroke="#d9d9d9" stroke-width="1.3"/>
<line x1="37" x2="637" y1="441.5" y2="441.5" stroke="#d9d9d9" stroke-width="1.3"/>
<line x1="37" x2="637" y1="478.7" y2="478.7" stroke="#d9d9d9" stroke-width="1.3"/>
<line x1="37" x2="637" y1="516.1" y2="516.1" stroke="#d9d9d9" stroke-width="1.3"/>
<line x1="37" x2="637" y1="553.2" y2="553.2" stroke="#d9d9d9" stroke-width="1.3"/>
<line x1="37" x2="637" y1="626.8" y2="626.8" stroke="#d9d9d9" stroke-width="1.3"/>
<line x1="37" x2="637" y1="663.7" y2="663.7" stroke="#d9d9d9" stroke-width="1.3"/>
<line x1="37" x2="637" y1="700.6" y2="700.6" stroke="#d9d9d9" stroke-width="1.3"/>
<line x1="37" x2="637" y1="737.3" y2="737.3" stroke="#d9d9d9" stroke-width="1.3"/>
<line x1="37" x2="637" y1="774.8" y2="774.8" stroke="#d9d9d9" stroke-width="1.3"/>
<line x1="37" x2="637" y1="589.5" y2="589.5" stroke="#767676" stroke-width="1.3"/>
<line x1="37.5" x2="37.5" y1="583.5" y2="589.5" stroke="#767676" stroke-width="1.2"/>
<line x1="102.2" x2="102.2" y1="583.5" y2="589.5" stroke="#767676" stroke-width="1.2"/>
<line x1="166.9" x2="166.9" y1="583.5" y2="589.5" stroke="#767676" stroke-width="1.2"/>
<line x1="231.7" x2="231.7" y1="583.5" y2="589.5" stroke="#767676" stroke-width="1.2"/>
<line x1="296.4" x2="296.4" y1="583.5" y2="589.5" stroke="#767676" stroke-width="1.2"/>
<line x1="361.1" x2="361.1" y1="583.5" y2="589.5" stroke="#767676" stroke-width="1.2"/>
<line x1="425.8" x2="425.8" y1="583.5" y2="589.5" stroke="#767676" stroke-width="1.2"/>
<line x1="490.5" x2="490.5" y1="583.5" y2="589.5" stroke="#767676" stroke-width="1.2"/>
<line x1="555.3" x2="555.3" y1="583.5" y2="589.5" stroke="#767676" stroke-width="1.2"/>
<line x1="620.0" x2="620.0" y1="583.5" y2="589.5" stroke="#767676" stroke-width="1.2"/>
<line x1="37" x2="636" y1="497" y2="497" stroke="#ff0000" stroke-width="2.6" stroke-dasharray="7.5 5.5"/>
<line x1="37" x2="636" y1="553" y2="553" stroke="#fdc02f" stroke-width="1.6" stroke-dasharray="7.5 5.5"/>
<line x1="37" x2="636" y1="627" y2="627" stroke="#b2dca0" stroke-width="1.6" stroke-dasharray="7.5 5.5"/>
<line x1="37" x2="636" y1="682" y2="682" stroke="#00b050" stroke-width="2.6" stroke-dasharray="7.5 5.5"/>
<path d="M37.50,465.00 C38.00,469.79 39.12,494.08 40.50,493.75 C41.88,493.42 43.92,454.38 45.75,463.00 C47.58,471.62 49.62,540.46 51.50,545.50 C53.38,550.54 55.17,492.00 57.00,493.25 C58.83,494.50 61.29,537.04 62.50,553.00 C63.71,568.96 63.33,571.67 64.25,589.00 C65.17,606.33 66.62,652.25 68.00,657.00 C69.38,661.75 71.33,617.83 72.50,617.50 C73.67,617.17 74.17,637.92 75.00,655.00 C75.83,672.08 76.67,703.33 77.50,720.00 C78.33,736.67 79.04,746.88 80.00,755.00 C80.96,763.12 82.33,772.92 83.25,768.75 C84.17,764.58 84.58,748.54 85.50,730.00 C86.42,711.46 87.79,671.88 88.75,657.50 C89.71,643.12 90.12,647.79 91.25,643.75 C92.38,639.71 94.04,633.79 95.50,633.25 C96.96,632.71 98.62,638.96 100.00,640.50 C101.38,642.04 102.71,643.00 103.75,642.50 C104.79,642.00 105.42,642.92 106.25,637.50 C107.08,632.08 107.92,616.88 108.75,610.00 C109.58,603.12 110.00,598.54 111.25,596.25 C112.50,593.96 115.12,592.71 116.25,596.25 C117.38,599.79 117.38,603.54 118.00,617.50 C118.62,631.46 119.04,662.50 120.00,680.00 C120.96,697.50 122.50,712.83 123.75,722.50 C125.00,732.17 126.04,738.00 127.50,738.00 C128.96,738.00 130.62,732.17 132.50,722.50 C134.38,712.83 136.88,697.08 138.75,680.00 C140.62,662.92 142.00,633.83 143.75,620.00 C145.50,606.17 147.50,598.67 149.25,597.00 C151.00,595.33 153.08,602.42 154.25,610.00 C155.42,617.58 155.38,632.29 156.25,642.50 C157.12,652.71 158.46,668.33 159.50,671.25 C160.54,674.17 161.58,666.88 162.50,660.00 C163.42,653.12 164.17,641.75 165.00,630.00 C165.83,618.25 166.80,601.83 167.50,589.50 C168.20,577.17 168.68,563.75 169.20,556.00 C169.72,548.25 170.00,545.80 170.60,543.00 C171.20,540.20 172.07,540.07 172.80,539.20 C173.53,538.33 174.33,536.33 175.00,537.80 C175.67,539.27 176.09,539.42 176.80,548.00 C177.51,556.58 177.68,566.21 179.25,589.25 C180.82,612.29 184.04,686.33 186.25,686.25 C188.46,686.17 190.71,602.38 192.50,588.75 C194.29,575.12 195.33,604.29 197.00,604.50 C198.67,604.71 201.17,598.58 202.50,590.00 C203.83,581.42 203.96,565.62 205.00,553.00 C206.04,540.38 206.54,515.58 208.75,514.25 C210.96,512.92 214.79,547.25 218.25,545.00 C221.71,542.75 226.08,499.42 229.50,500.75 C232.92,502.08 236.17,539.79 238.75,553.00 C241.33,566.21 242.96,572.67 245.00,580.00 C247.04,587.33 248.29,599.17 251.00,597.00 C253.71,594.83 258.71,568.29 261.25,567.00 C263.79,565.71 265.00,579.17 266.25,589.25 C267.50,599.33 267.71,608.92 268.75,627.50 C269.79,646.08 271.04,699.71 272.50,700.75 C273.96,701.79 275.58,627.29 277.50,633.75 C279.42,640.21 281.92,729.12 284.00,739.50 C286.08,749.88 288.38,703.75 290.00,696.00 C291.62,688.25 292.17,688.50 293.75,693.00 C295.33,697.50 296.71,726.62 299.50,723.00 C302.29,719.38 307.92,677.17 310.50,671.25 C313.08,665.33 313.83,694.88 315.00,687.50 C316.17,680.12 316.75,643.33 317.50,627.00 C318.25,610.67 318.88,603.25 319.50,589.50 C320.12,575.75 320.12,550.88 321.25,544.50 C322.38,538.12 324.58,553.96 326.25,551.25 C327.92,548.54 329.71,521.92 331.25,528.25 C332.79,534.58 333.62,562.92 335.50,589.25 C337.38,615.58 338.75,692.71 342.50,686.25 C346.25,679.79 354.67,559.88 358.00,550.50 C361.33,541.12 360.50,599.96 362.50,630.00 C364.50,660.04 366.96,731.38 370.00,730.75 C373.04,730.12 377.33,632.29 380.75,626.25 C384.17,620.21 387.71,695.96 390.50,694.50 C393.29,693.04 395.50,639.92 397.50,617.50 C399.50,595.08 400.83,563.42 402.50,560.00 C404.17,556.58 405.62,596.17 407.50,597.00 C409.38,597.83 412.08,572.21 413.75,565.00 C415.42,557.79 415.00,564.46 417.50,553.75 C420.00,543.04 426.08,505.12 428.75,500.75 C431.42,496.38 432.21,522.62 433.50,527.50 C434.79,532.38 435.50,529.50 436.50,530.00 C437.50,530.50 438.08,518.08 439.50,530.50 C440.92,542.92 443.12,606.96 445.00,604.50 C446.88,602.04 448.96,518.25 450.75,515.75 C452.54,513.25 454.00,592.00 455.75,589.50 C457.50,587.00 459.38,496.71 461.25,500.75 C463.12,504.79 464.29,611.25 467.00,613.75 C469.71,616.25 474.79,523.33 477.50,515.75 C480.21,508.17 481.50,561.92 483.25,568.25 C485.00,574.58 486.34,569.79 488.00,553.75 C489.66,537.71 492.00,485.96 493.20,472.00 C494.40,458.04 494.15,467.83 495.20,470.00 C496.25,472.17 498.07,472.50 499.50,485.00 C500.93,497.50 502.08,531.25 503.75,545.00 C505.42,558.75 507.71,567.83 509.50,567.50 C511.29,567.17 512.54,531.62 514.50,543.00 C516.46,554.38 519.29,625.83 521.25,635.75 C523.21,645.67 524.58,608.96 526.25,602.50 C527.92,596.04 529.58,597.83 531.25,597.00 C532.92,596.17 534.46,606.08 536.25,597.50 C538.04,588.92 540.12,543.42 542.00,545.50 C543.88,547.58 545.96,596.75 547.50,610.00 C549.04,623.25 550.00,616.25 551.25,625.00 C552.50,633.75 553.83,647.38 555.00,662.50 C556.17,677.62 556.79,717.00 558.25,715.75 C559.71,714.50 561.88,667.62 563.75,655.00 C565.62,642.38 567.54,647.92 569.50,640.00 C571.46,632.08 573.75,611.25 575.50,607.50 C577.25,603.75 578.42,608.33 580.00,617.50 C581.58,626.67 583.33,652.00 585.00,662.50 C586.67,673.00 588.21,688.96 590.00,680.50 C591.79,672.04 593.88,608.29 595.75,611.75 C597.62,615.21 599.71,704.04 601.25,701.25 C602.79,698.46 603.88,620.62 605.00,595.00 C606.12,569.38 606.54,563.33 608.00,547.50 C609.46,531.67 611.96,511.58 613.75,500.00 C615.54,488.42 616.88,477.58 618.75,478.00 C620.62,478.42 623.46,496.12 625.00,502.50 C626.54,508.88 626.96,507.92 628.00,516.25 C629.04,524.58 630.25,537.79 631.25,552.50 C632.25,567.21 633.54,595.83 634.00,604.50" fill="none" stroke="#7f7f7f" stroke-width="1.7" stroke-linejoin="round" stroke-linecap="round"/>
</svg>
<div class="t" style="left:323.90px;top:420.30px;transform:translate(-50%,-50%);font-size:17px;color:#151515;letter-spacing:0.7px;-webkit-text-stroke:0.2px #151515;transform:translate(-50%,-50%) scaleX(1.045);">Evolución Temperatura</div>
<div class="t" style="left:40.20px;top:797.40px;transform:translate(-50%,-50%);font-size:15.3px;color:#595959;-webkit-text-stroke:0.25px #595959;transform:translate(-50%,-50%) scaleX(0.9);">2011</div>
<div class="t" style="left:105.05px;top:797.40px;transform:translate(-50%,-50%);font-size:15.3px;color:#595959;-webkit-text-stroke:0.25px #595959;transform:translate(-50%,-50%) scaleX(0.9);">2012</div>
<div class="t" style="left:169.90px;top:797.40px;transform:translate(-50%,-50%);font-size:15.3px;color:#595959;-webkit-text-stroke:0.25px #595959;transform:translate(-50%,-50%) scaleX(0.9);">2013</div>
<div class="t" style="left:234.75px;top:797.40px;transform:translate(-50%,-50%);font-size:15.3px;color:#595959;-webkit-text-stroke:0.25px #595959;transform:translate(-50%,-50%) scaleX(0.9);">2014</div>
<div class="t" style="left:299.60px;top:797.40px;transform:translate(-50%,-50%);font-size:15.3px;color:#595959;-webkit-text-stroke:0.25px #595959;transform:translate(-50%,-50%) scaleX(0.9);">2015</div>
<div class="t" style="left:364.45px;top:797.40px;transform:translate(-50%,-50%);font-size:15.3px;color:#595959;-webkit-text-stroke:0.25px #595959;transform:translate(-50%,-50%) scaleX(0.9);">2016</div>
<div class="t" style="left:429.30px;top:797.40px;transform:translate(-50%,-50%);font-size:15.3px;color:#595959;-webkit-text-stroke:0.25px #595959;transform:translate(-50%,-50%) scaleX(0.9);">2017</div>
<div class="t" style="left:494.15px;top:797.40px;transform:translate(-50%,-50%);font-size:15.3px;color:#595959;-webkit-text-stroke:0.25px #595959;transform:translate(-50%,-50%) scaleX(0.9);">2018</div>
<div class="t" style="left:559.00px;top:797.40px;transform:translate(-50%,-50%);font-size:15.3px;color:#595959;-webkit-text-stroke:0.25px #595959;transform:translate(-50%,-50%) scaleX(0.9);">2019</div>
<div class="t" style="left:623.85px;top:797.40px;transform:translate(-50%,-50%);font-size:15.3px;color:#595959;-webkit-text-stroke:0.25px #595959;transform:translate(-50%,-50%) scaleX(0.9);">2020</div>
<div style="left:835.00px;top:375.00px;width:451.00px;height:20.00px;background:#ffff00;"></div>
<div class="t" style="left:1060.50px;top:384.30px;transform:translate(-50%,-50%);font-size:13px;font-weight:bold;letter-spacing:0.58px;">¿QUÉ HACE EL EUROSTOXX 12 MESES DESPUÉS?</div>
<div style="left:672.50px;top:411.25px;width:155.50px;height:356.25px;background:#f2f2f2;"></div>
<div style="left:655.00px;top:411.25px;width:17.50px;height:19.05px;background:#f8696b;"></div>
<div style="left:655.00px;top:430.00px;width:17.50px;height:19.05px;background:#f9776e;"></div>
<div style="left:655.00px;top:448.75px;width:17.50px;height:19.05px;background:#fa8671;"></div>
<div style="left:655.00px;top:467.50px;width:17.50px;height:19.05px;background:#fa9473;"></div>
<div style="left:655.00px;top:486.25px;width:17.50px;height:19.05px;background:#fba376;"></div>
<div style="left:655.00px;top:505.00px;width:17.50px;height:19.05px;background:#fcb179;"></div>
<div style="left:655.00px;top:523.75px;width:17.50px;height:19.05px;background:#fdc07c;"></div>
<div style="left:655.00px;top:542.50px;width:17.50px;height:19.05px;background:#fdce7e;"></div>
<div style="left:655.00px;top:561.25px;width:17.50px;height:19.05px;background:#fedd81;"></div>
<div style="left:655.00px;top:580.00px;width:17.50px;height:19.05px;background:#ffeb84;"></div>
<div style="left:655.00px;top:598.75px;width:17.50px;height:19.05px;background:#eee683;"></div>
<div style="left:655.00px;top:617.50px;width:17.50px;height:19.05px;background:#dce182;"></div>
<div style="left:655.00px;top:636.25px;width:17.50px;height:19.05px;background:#cbdc81;"></div>
<div style="left:655.00px;top:655.00px;width:17.50px;height:19.05px;background:#bad780;"></div>
<div style="left:655.00px;top:673.75px;width:17.50px;height:19.05px;background:#a8d27f;"></div>
<div style="left:655.00px;top:692.50px;width:17.50px;height:19.05px;background:#97cd7e;"></div>
<div style="left:655.00px;top:711.25px;width:17.50px;height:19.05px;background:#86c87d;"></div>
<div style="left:655.00px;top:730.00px;width:17.50px;height:19.05px;background:#74c37c;"></div>
<div style="left:655.00px;top:748.75px;width:17.50px;height:19.05px;background:#63be7b;"></div>
<div style="left:835.00px;top:412.00px;width:448.50px;height:19.00px;background:#f2f2f2;"></div>
<div style="left:835.00px;top:411.00px;width:451.00px;height:2.00px;background:#000;"></div>
<div style="left:835.00px;top:430.00px;width:451.00px;height:1.20px;background:#222;"></div>
<div style="left:835.00px;top:432.00px;width:451.00px;height:1.20px;background:#555;"></div>
<div class="t" style="left:838.75px;top:422.00px;transform:translate(0,-50%);font-size:13px;font-weight:bold;font-style:italic;letter-spacing:0.3px;">Nº de observaciones</div>
<div class="t" style="left:1052.50px;top:422.00px;transform:translate(-50%,-50%);font-size:13px;font-weight:bold;font-style:italic;letter-spacing:0.3px;">Rentabilidad media</div>
<div class="t" style="left:1162.50px;top:422.00px;transform:translate(-50%,-50%);font-size:13px;font-weight:bold;font-style:italic;letter-spacing:0.3px;">Alcista</div>
<div class="t" style="left:1243.75px;top:422.00px;transform:translate(-50%,-50%);font-size:13px;font-weight:bold;font-style:italic;letter-spacing:0.3px;">Bajista</div>
<div class="t" style="left:1202.50px;top:402.50px;transform:translate(-50%,-50%);font-size:13px;font-weight:bold;font-style:italic;letter-spacing:0.3px;">Hit Ratio</div>
<div style="left:835.00px;top:450.50px;width:448.50px;height:20.00px;background:#ff0000;"></div>
<div class="t" style="left:910.00px;top:461.00px;transform:translate(-50%,-50%);font-size:13px;font-weight:bold;letter-spacing:0.12px;color:#fff;">14</div>
<div class="t" style="left:1053.00px;top:461.00px;transform:translate(-50%,-50%);font-size:13px;font-weight:bold;letter-spacing:0.12px;color:#fff;">-17,3%</div>
<div class="t" style="left:1162.50px;top:461.00px;transform:translate(-50%,-50%);font-size:13px;font-weight:bold;letter-spacing:0.12px;color:#fff;">0%</div>
<div class="t" style="left:1243.75px;top:461.00px;transform:translate(-50%,-50%);font-size:13px;font-weight:bold;letter-spacing:0.12px;color:#fff;">100%</div>
<div style="left:835.00px;top:505.75px;width:448.50px;height:19.75px;background:#ffc955;"></div>
<div class="t" style="left:910.00px;top:516.12px;transform:translate(-50%,-50%);font-size:13px;font-weight:bold;letter-spacing:0.12px;color:#000;">52</div>
<div class="t" style="left:1053.00px;top:516.12px;transform:translate(-50%,-50%);font-size:13px;font-weight:bold;letter-spacing:0.12px;color:#000;">-4,2%</div>
<div class="t" style="left:1162.50px;top:516.12px;transform:translate(-50%,-50%);font-size:13px;font-weight:bold;letter-spacing:0.12px;color:#000;">52%</div>
<div class="t" style="left:1243.75px;top:516.12px;transform:translate(-50%,-50%);font-size:13px;font-weight:bold;letter-spacing:0.12px;color:#000;">48%</div>
<div style="left:835.00px;top:580.50px;width:449.00px;height:20.00px;background:#fff;border:2px solid #000;border-right:none;"></div>
<div class="t" style="left:910.00px;top:591.00px;transform:translate(-50%,-50%);font-size:13px;font-weight:bold;letter-spacing:0.12px;color:#000;">76</div>
<div class="t" style="left:1053.00px;top:591.00px;transform:translate(-50%,-50%);font-size:13px;font-weight:bold;letter-spacing:0.12px;color:#000;">5,9%</div>
<div class="t" style="left:1162.50px;top:591.00px;transform:translate(-50%,-50%);font-size:13px;font-weight:bold;letter-spacing:0.12px;color:#000;">72%</div>
<div class="t" style="left:1243.75px;top:591.00px;transform:translate(-50%,-50%);font-size:13px;font-weight:bold;letter-spacing:0.12px;color:#000;">28%</div>
<div style="left:835.00px;top:637.00px;width:448.50px;height:19.75px;background:#c6e0b4;"></div>
<div class="t" style="left:910.00px;top:647.38px;transform:translate(-50%,-50%);font-size:13px;font-weight:bold;letter-spacing:0.12px;color:#000;">42</div>
<div class="t" style="left:1053.00px;top:647.38px;transform:translate(-50%,-50%);font-size:13px;font-weight:bold;letter-spacing:0.12px;color:#000;">6,4%</div>
<div class="t" style="left:1162.50px;top:647.38px;transform:translate(-50%,-50%);font-size:13px;font-weight:bold;letter-spacing:0.12px;color:#000;">67%</div>
<div class="t" style="left:1243.75px;top:647.38px;transform:translate(-50%,-50%);font-size:13px;font-weight:bold;letter-spacing:0.12px;color:#000;">33%</div>
<div style="left:835.00px;top:710.50px;width:448.50px;height:19.75px;background:#548235;"></div>
<div class="t" style="left:910.00px;top:720.88px;transform:translate(-50%,-50%);font-size:13px;font-weight:bold;letter-spacing:0.12px;color:#fff;">30</div>
<div class="t" style="left:1053.00px;top:720.88px;transform:translate(-50%,-50%);font-size:13px;font-weight:bold;letter-spacing:0.12px;color:#fff;">7,8%</div>
<div class="t" style="left:1162.50px;top:720.88px;transform:translate(-50%,-50%);font-size:13px;font-weight:bold;letter-spacing:0.12px;color:#fff;">73%</div>
<div class="t" style="left:1243.75px;top:720.88px;transform:translate(-50%,-50%);font-size:13px;font-weight:bold;letter-spacing:0.12px;color:#fff;">27%</div>
<div style="left:1121.25px;top:393.75px;width:164.00px;height:336.50px;background:transparent;border:1.6px solid #000;border-right-width:2px;"></div>
<div class="t" style="left:687.50px;top:461.00px;transform:translate(0,-50%);font-size:13.5px;font-weight:bold;color:#ff0000;">¡ALERTA!</div>
<div class="t" style="left:687.50px;top:516.00px;transform:translate(0,-50%);font-size:13.5px;font-weight:bold;color:#f9a25c;letter-spacing:0.22px;">LIGEROS EXCESOS</div>
<div class="t" style="left:687.50px;top:591.25px;transform:translate(0,-50%);font-size:13.5px;font-weight:bold;color:#000;">NEUTRAL</div>
<div class="t" style="left:687.50px;top:647.00px;transform:translate(0,-50%);font-size:13.5px;font-weight:bold;color:#a9d08e;letter-spacing:0.4px;">BUEN TONO</div>
<div class="t" style="left:687.50px;top:720.75px;transform:translate(0,-50%);font-size:13.5px;font-weight:bold;color:#548235;letter-spacing:0.1px;">¡OPORTUNIDAD!</div>
<div style="left:73.00px;top:826.50px;width:1136.00px;height:1.30px;background:#222;"></div>
<div class="t" style="left:641.30px;top:863.00px;transform:translate(-50%,-50%);font-size:11px;color:#a6a6a6;">8</div>
<div class="t" id="lg_a" style="left:78.48px;top:841.60px;color:#111;transform-origin:0 0;transform:scale(1.0169,1.1000);font-family:'Liberation Serif',serif;font-weight:bold;font-size:24px;">allocator</div>
<div class="t" id="lg_G" style="left:168.16px;top:846.34px;color:#111;transform-origin:0 0;transform:scale(1.0926,0.9810);font-family:'Liberation Sans',sans-serif;font-weight:bold;font-size:39px;-webkit-text-stroke:0.8px #111;">G</div>
<div class="t" id="lg_d" style="left:196.25px;top:842.35px;color:#111;transform-origin:0 0;transform:scale(1.0000,1.0672);font-family:'Liberation Serif',serif;font-weight:bold;font-size:42px;">d</div>
<div class="t" id="lg_C" style="left:218.89px;top:846.34px;color:#111;transform-origin:0 0;transform:scale(1.1058,0.9810);font-family:'Liberation Sans',sans-serif;font-weight:bold;font-size:39px;-webkit-text-stroke:0.8px #111;">C</div>
<svg width="1286" height="892" viewBox="0 0 1286 892"><line x1="178.75" y1="843" x2="163.25" y2="881" stroke="#222" stroke-width="0.9"/></svg>
</body></html>
